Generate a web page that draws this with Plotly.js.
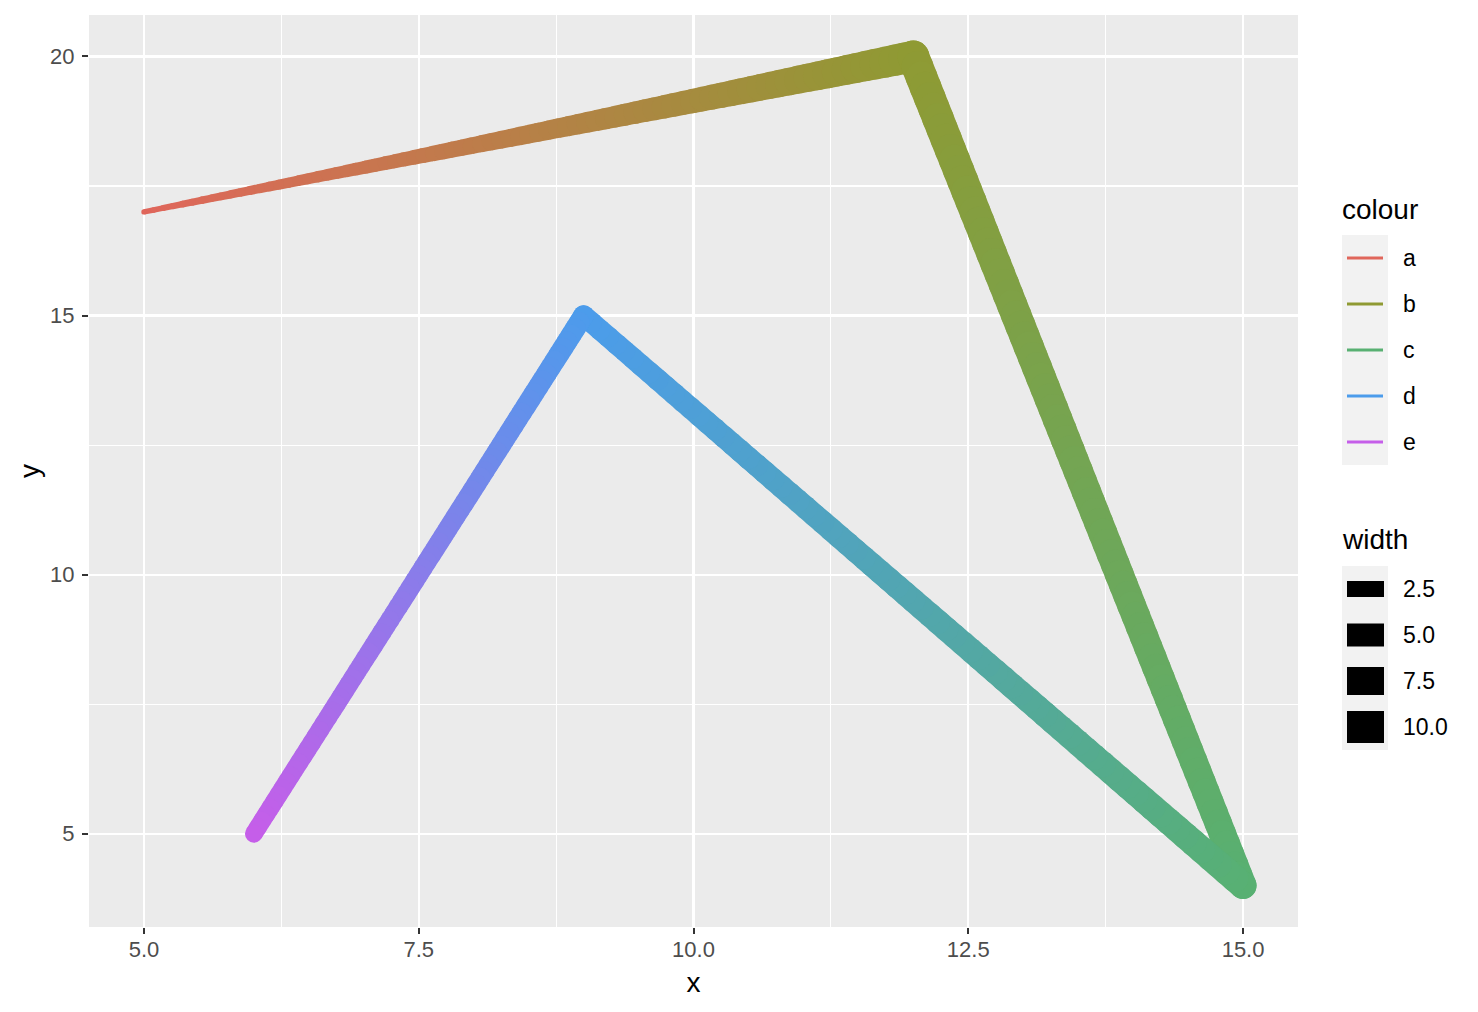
<!DOCTYPE html>
<html>
<head>
<meta charset="utf-8">
<script src="https://cdn.plot.ly/plotly-3.0.1.min.js"></script>
<style>
html,body{margin:0;padding:0;background:#fff;}
#chart{width:1478px;height:1012px;}
</style>
</head>
<body>
<div id="chart"></div>
<script>
// ---- data ----
const xVals = [5, 12, 15, 9, 6];
const yVals = [17, 20, 4, 15, 5];
const colourCats = ['a', 'b', 'c', 'd', 'e'];
const widthVals = [1, 10, 7, 4, 3];
const widthBreaks = [2.5, 5.0, 7.5, 10.0];
const widthBreakLabels = ['2.5', '5.0', '7.5', '10.0'];
const xTickVals = [5, 7.5, 10, 12.5, 15];
const xTickText = ['5.0', '7.5', '10.0', '12.5', '15.0'];
const yTickVals = [5, 10, 15, 20];
const yTickText = ['5', '10', '15', '20'];

// ---- styles ----
const palette = {a: '#E0665B', b: '#8F9A33', c: '#58B072', d: '#4C9CEB', e: '#C55EE9'};
const W = 1478, H = 1012;
const mL = 89, mR = 180, mT = 15, mB = 85;
const pw = W - mL - mR, ph = H - mT - mB;
const wMin = Math.min(...widthVals), wMax = Math.max(...widthVals);
const pxUnit = 5.3;
function widthPx(v) { // ggplot area palette, range 1..6
  const r = Math.max(0, (v - wMin) / (wMax - wMin));
  return pxUnit * (1 + 5 * Math.sqrt(r));
}
function hex2rgb(h) { return [1,3,5].map(i => parseInt(h.substr(i,2),16)); }
function mix(c1, c2, t) {
  const a = hex2rgb(c1), b = hex2rgb(c2);
  const m = a.map((v, i) => Math.round(v + (b[i] - v) * t));
  return 'rgb(' + m.join(',') + ')';
}

// ---- gradient path (rendering of geom_link2 style) ----
const traces = [];
const STEPS = 80;
for (let i = 0; i < xVals.length - 1; i++) {
  const c0 = palette[colourCats[i]], c1 = palette[colourCats[i + 1]];
  const w0 = widthPx(widthVals[i]), w1 = widthPx(widthVals[i + 1]);
  const mx = [], my = [], ms = [], mc = [];
  for (let j = 0; j <= STEPS; j++) {
    const t = j / STEPS;
    mx.push(xVals[i] + (xVals[i + 1] - xVals[i]) * t);
    my.push(yVals[i] + (yVals[i + 1] - yVals[i]) * t);
    ms.push(w0 + (w1 - w0) * t);
    mc.push(mix(c0, c1, t));
  }
  for (let j = 0; j < STEPS; j++) {
    const tm = (j + 0.5) / STEPS;
    traces.push({
      type: 'scatter', mode: 'lines',
      x: [mx[j], mx[j + 1]], y: [my[j], my[j + 1]],
      line: {color: mix(c0, c1, tm), width: w0 + (w1 - w0) * tm},
      hoverinfo: 'skip', showlegend: false
    });
  }
  traces.push({
    type: 'scatter', mode: 'markers', x: mx, y: my,
    marker: {size: ms, color: mc, line: {width: 0}, opacity: 1},
    hoverinfo: 'skip', showlegend: false, cliponaxis: false
  });
}

// ---- legends (drawn in paper coordinates) ----
const px2x = p => (p - mL) / pw;
const py2y = p => (H - mB - p) / ph;
const shapes = [], annotations = [];
const keyL = 1342, keyR = 1388, keyH = 46;
const labelX = 1403;
function addTitle(text, yc) {
  annotations.push({xref: 'paper', yref: 'paper', x: px2x(keyL - 2), y: py2y(yc),
    xanchor: 'left', yanchor: 'middle', text: text, showarrow: false,
    font: {size: 28, color: '#000000', family: 'Liberation Sans, Arial, sans-serif'}});
}
function addLabel(text, yc) {
  annotations.push({xref: 'paper', yref: 'paper', x: px2x(labelX - 2), y: py2y(yc),
    xanchor: 'left', yanchor: 'middle', text: text, showarrow: false,
    font: {size: 23, color: '#000000', family: 'Liberation Sans, Arial, sans-serif'}});
}
// colour legend
addTitle('colour', 209);
const cTop = 235;
colourCats.forEach((c, k) => {
  const y0 = cTop + k * keyH, yc = y0 + keyH / 2;
  shapes.push({type: 'rect', xref: 'paper', yref: 'paper', x0: px2x(keyL), x1: px2x(keyR),
    y0: py2y(y0), y1: py2y(y0 + keyH), fillcolor: '#F2F2F2', line: {width: 0}, layer: 'below'});
  shapes.push({type: 'line', xref: 'paper', yref: 'paper', x0: px2x(keyL + 5), x1: px2x(keyR - 5),
    y0: py2y(yc), y1: py2y(yc), line: {color: palette[c], width: 3}});
  addLabel(c, yc);
});
// width legend
addTitle('width', 539);
const wTop = 566;
widthBreaks.forEach((b, k) => {
  const y0 = wTop + k * keyH, yc = y0 + keyH / 2;
  shapes.push({type: 'rect', xref: 'paper', yref: 'paper', x0: px2x(keyL), x1: px2x(keyR),
    y0: py2y(y0), y1: py2y(y0 + keyH), fillcolor: '#F2F2F2', line: {width: 0}, layer: 'below'});
  shapes.push({type: 'line', xref: 'paper', yref: 'paper', x0: px2x(keyL + 5), x1: px2x(keyR - 4),
    y0: py2y(yc), y1: py2y(yc), line: {color: '#000000', width: widthPx(b)}});
  addLabel(widthBreakLabels[k], yc);
});

const axisCommon = {
  showgrid: true, gridcolor: '#FFFFFF', gridwidth: 2.2,
  zeroline: false, showline: false,
  ticks: 'outside', ticklen: 6, tickwidth: 2, tickcolor: '#333333',
  tickfont: {size: 22, color: '#4D4D4D', family: 'Liberation Sans, Arial, sans-serif'},
  automargin: false, fixedrange: true
};

const layout = {
  width: W, height: H,
  margin: {l: mL, r: mR, t: mT, b: mB, pad: 0},
  paper_bgcolor: '#FFFFFF', plot_bgcolor: '#EBEBEB',
  showlegend: false,
  font: {family: 'Liberation Sans, Arial, sans-serif'},
  xaxis: Object.assign({}, axisCommon, {
    range: [4.5, 15.5], tickmode: 'array', tickvals: xTickVals, ticktext: xTickText,
    ticklabelstandoff: -3,
    minor: {tick0: 6.25, dtick: 2.5, showgrid: true, gridcolor: '#FFFFFF', gridwidth: 1.1, ticks: ''},
    title: {text: 'x', standoff: 10, font: {size: 28, color: '#000000'}}
  }),
  yaxis: Object.assign({}, axisCommon, {
    range: [3.2, 20.8], tickmode: 'array', tickvals: yTickVals, ticktext: yTickText,
    ticklabelstandoff: 3,
    minor: {tick0: 2.5, dtick: 5, showgrid: true, gridcolor: '#FFFFFF', gridwidth: 1.1, ticks: ''},
    title: {text: 'y', standoff: 2, font: {size: 28, color: '#000000'}}
  }),
  shapes: shapes,
  annotations: annotations
};

Plotly.newPlot('chart', traces, layout, {displayModeBar: false, staticPlot: true});
</script>
</body>
</html>
